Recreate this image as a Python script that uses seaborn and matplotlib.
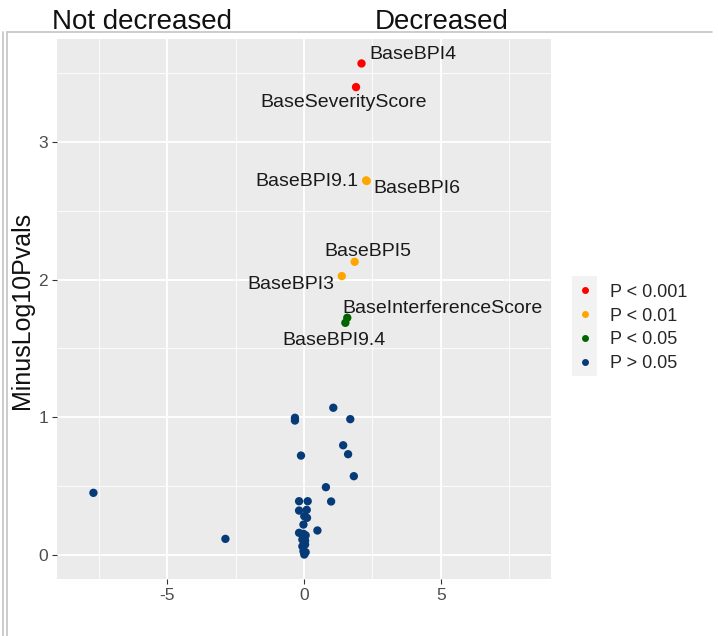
import matplotlib
matplotlib.use("Agg")
import matplotlib.pyplot as plt
from matplotlib.patches import Rectangle
from matplotlib.lines import Line2D
from matplotlib.ticker import MultipleLocator
import seaborn as sns
import pandas as pd

# ---- data -------------------------------------------------------------
variables = [
    "BaseBPI4", "BaseSeverityScore", "BaseBPI9.1", "BaseBPI6", "BaseBPI5",
    "BaseBPI3", "BaseInterferenceScore", "BaseBPI9.4",
] + [f"Other{i}" for i in range(1, 31)]

effect = [
    2.10, 1.90, 2.27, 2.29, 1.85, 1.38, 1.58, 1.51,
    -7.69, -2.87, 1.07, -0.33, -0.33, 1.69, 1.43, 1.61, -0.11, 1.82,
    0.80, 0.99, -0.18, 0.135, -0.18, 0.10, 0.01, 0.11, -0.02, 0.49,
    -0.18, -0.02, 0.06, -0.06, 0.04, -0.06, 0.04, -0.02, 0.06, 0.01,
]

minus_log10_p = [
    3.573, 3.401, 2.722, 2.718, 2.130, 2.026, 1.723, 1.686,
    0.449, 0.114, 1.068, 0.995, 0.975, 0.985, 0.795, 0.730, 0.720, 0.570,
    0.490, 0.386, 0.388, 0.388, 0.320, 0.325, 0.279, 0.267, 0.218, 0.175,
    0.158, 0.151, 0.140, 0.109, 0.102, 0.060, 0.073, 0.024, 0.017, 0.000,
]

significance = (["P < 0.001"] * 2 + ["P < 0.01"] * 4 + ["P < 0.05"] * 2
                + ["P > 0.05"] * 30)

levels = ["P < 0.001", "P < 0.01", "P < 0.05", "P > 0.05"]
labelled = variables[:8]

df = pd.DataFrame({"Variable": variables, "Effect": effect,
                   "MinusLog10Pvals": minus_log10_p, "Sig": significance})

# ---- style ------------------------------------------------------------
sns.set_theme(style="whitegrid")
plt.rcParams["font.family"] = ["Liberation Sans", "DejaVu Sans"]
plt.rcParams["axes.unicode_minus"] = False

palette = {"P < 0.001": "#FF0000", "P < 0.01": "#FFA500",
           "P < 0.05": "#006400", "P > 0.05": "#063B78"}

W, H = 718, 636
fig = plt.figure(figsize=(W / 100, H / 100), dpi=100)
ax = fig.add_axes([57 / W, (H - 579) / H, 494 / W, 540 / H])
ax.set_facecolor("#EBEBEB")

sns.scatterplot(data=df, x="Effect", y="MinusLog10Pvals", hue="Sig",
                hue_order=levels, palette=palette, s=36, linewidth=0,
                ax=ax, zorder=3)

ax.set_xlim(-9.02, 9.02)
ax.set_ylim(-0.178, 3.751)
ax.xaxis.set_major_locator(MultipleLocator(5))
ax.xaxis.set_minor_locator(MultipleLocator(2.5))
ax.yaxis.set_major_locator(MultipleLocator(1))
ax.yaxis.set_minor_locator(MultipleLocator(0.5))
ax.grid(which="major", color="white", linewidth=1.3)
ax.grid(which="minor", color="white", linewidth=0.6)
ax.set_axisbelow(True)
for sp in ax.spines.values():
    sp.set_visible(False)
ax.tick_params(which="major", length=3.5, width=0.8, color="#333333",
               labelcolor="#4D4D4D", labelsize=12.5, pad=3,
               left=True, bottom=True)
ax.tick_params(which="minor", length=0)
ax.set_xlabel("")
ax.set_ylabel("")

# ---- point labels -----------------------------------------------------
label_xy = {
    "BaseBPI4": (2.37, 3.603),
    "BaseSeverityScore": (-1.61, 3.253),
    "BaseBPI9.1": (-1.79, 2.681),
    "BaseBPI6": (2.55, 2.627),
    "BaseBPI5": (0.73, 2.171),
    "BaseBPI3": (-2.08, 1.934),
    "BaseInterferenceScore": (1.39, 1.754),
    "BaseBPI9.4": (-0.80, 1.521),
}
for name in labelled:
    tx, ty = label_xy[name]
    ax.text(tx, ty, name, ha="left", va="baseline", fontsize=14,
            color="#1A1A1A", zorder=4)

# ---- legend -----------------------------------------------------------
handles = [Line2D([], [], marker="o", linestyle="", markersize=5,
                  markerfacecolor=palette[l], markeredgewidth=0)
           for l in levels]
ax.legend(handles, levels, loc="center left",
          bbox_to_anchor=(565 / 494 - 57 / 494, (579 - 328) / 540),
          frameon=False, fontsize=13, handlelength=1.2, handletextpad=0.8,
          labelspacing=0.38, borderpad=0)
fig.add_artist(Rectangle((572 / W, (H - 376) / H), 25 / W, 100 / H,
                         transform=fig.transFigure, facecolor="#F2F2F2",
                         edgecolor="none", zorder=0))

# ---- titles, axis label and frame --------------------------------------
fig.text(52 / W, (H - 29) / H, "Not decreased", fontsize=20,
         color="#111111", ha="left", va="baseline")
fig.text(375 / W, (H - 29) / H, "Decreased", fontsize=20,
         color="#111111", ha="left", va="baseline")
fig.text(22 / W, (H - 310) / H, "MinusLog10Pvals", fontsize=18,
         rotation=90, ha="center", va="center", color="#111111")

frame_kw = dict(transform=fig.transFigure, color="#C4C4C4", linewidth=1.2)
fig.add_artist(Line2D([6.5 / W, 712 / W], [(H - 32) / H] * 2, **frame_kw))
fig.add_artist(Line2D([2.5 / W] * 2, [0, (H - 32) / H], **frame_kw))
fig.add_artist(Line2D([6.5 / W] * 2, [0, (H - 32) / H], **frame_kw))

fig.savefig("out.png", dpi=100, facecolor="white")
